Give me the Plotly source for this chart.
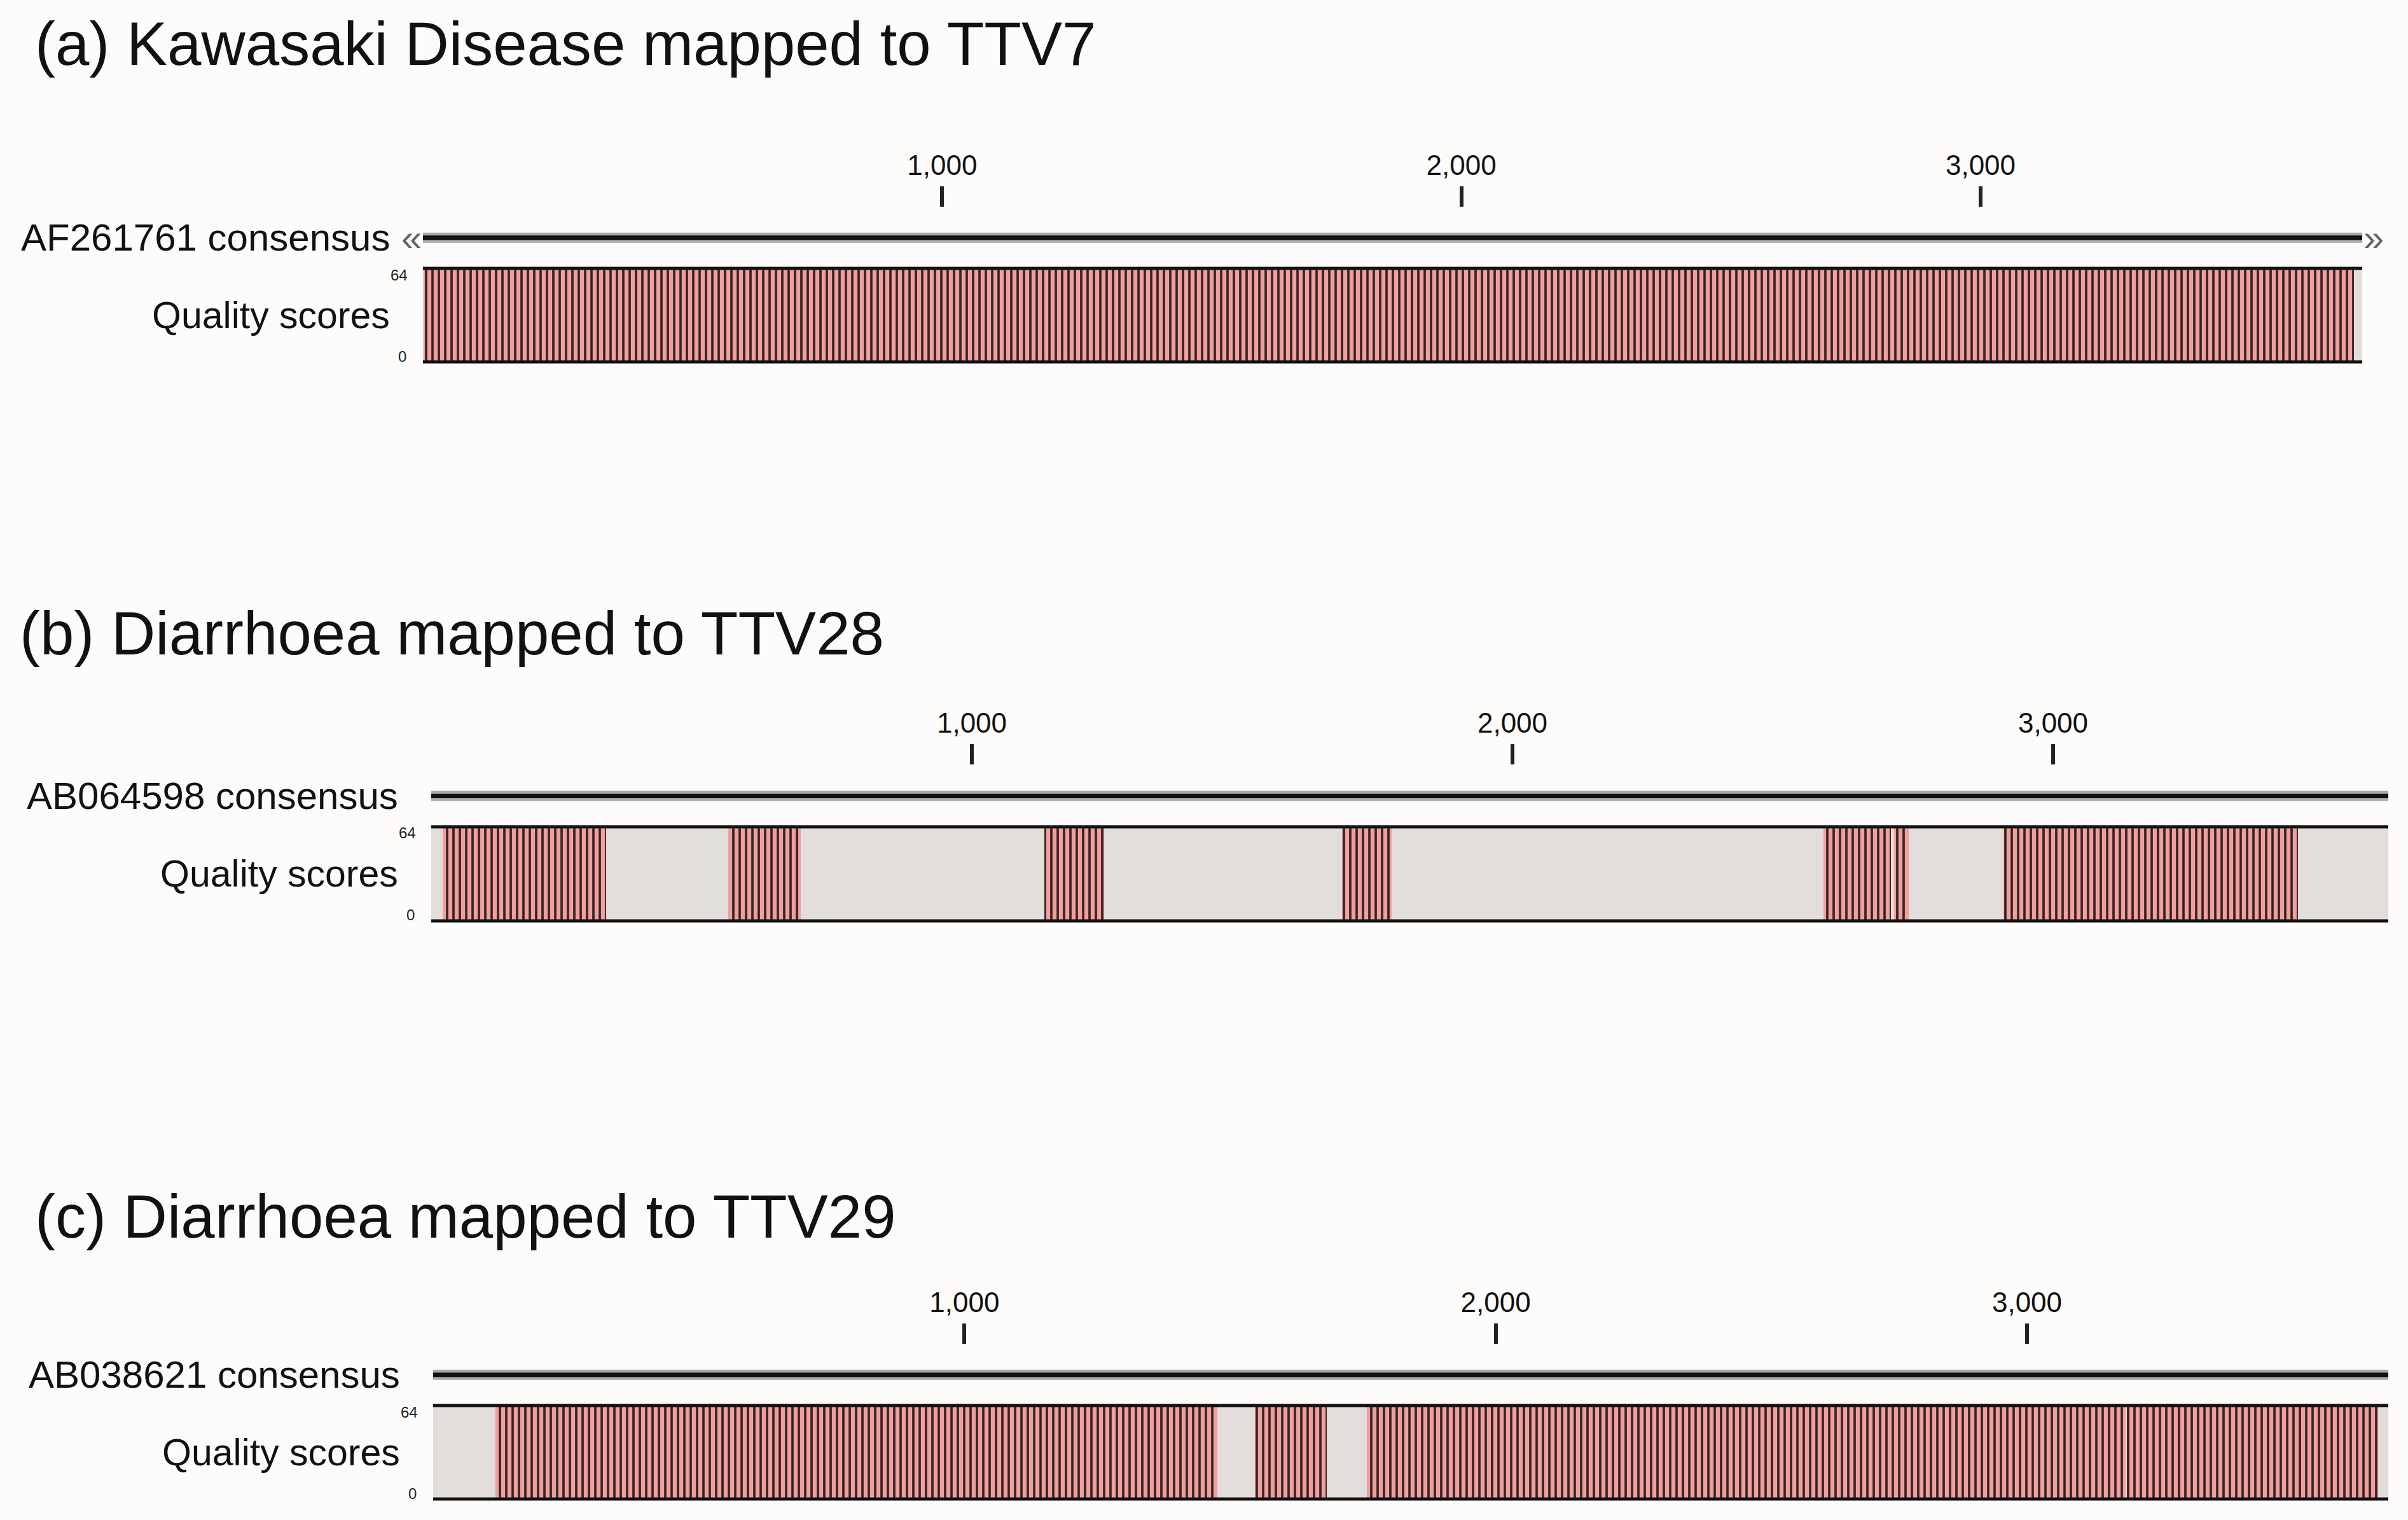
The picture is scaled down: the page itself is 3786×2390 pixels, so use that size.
import plotly.graph_objects as go

# ---------------- data ----------------
TITLES = ["(a) Kawasaki Disease mapped to TTV7",
          "(b) Diarrhoea mapped to TTV28",
          "(c) Diarrhoea mapped to TTV29"]
REFERENCES = ["AF261761 consensus", "AB064598 consensus", "AB038621 consensus"]
GENOME_LENGTHS = [3735, 3620, 3680]

COVERED_START_A = [1]
COVERED_END_A = [3719]
COVERED_START_B = [21, 549, 1134, 1685, 2575, 2706, 2908]
COVERED_END_B = [324, 684, 1245, 1776, 2700, 2733, 3453]
COVERED_START_C = [117, 1547, 1757, 3188]
COVERED_END_C = [1476, 1682, 3185, 3661]
QUALITY_MAX = 64

TICK_VALS = [1000, 2000, 3000]
TICK_TEXT = ["1,000", "2,000", "3,000"]

COVERED_STARTS = [COVERED_START_A, COVERED_START_B, COVERED_START_C]
COVERED_ENDS = [COVERED_END_A, COVERED_END_B, COVERED_END_C]

# ---------------- layout geometry (pixels) ----------------
W, H = 3786, 2390
PANELS = [
    dict(x0=665, x1=3714, top=422, bot=569, tx=53, ty=68, arrows=True),
    dict(x0=678, x1=3755, top=1300, bot=1448, tx=29, ty=995, arrows=False),
    dict(x0=681, x1=3755, top=2210, bot=2357, tx=53, ty=1912, arrows=False),
]
Y_LO, Y_HI = -3, 106
CONS_Y = 85

FONT = "Liberation Sans, Arial, sans-serif"
BG = "#fdfcfb"
GREY = "#e3dddc"
PINK = "#f09e9e"
DARK = "#352424"

fig = go.Figure()
annotations = []
layout_axes = {}

for i, p in enumerate(PANELS):
    n = "" if i == 0 else str(i + 1)
    xa, ya = "x" + n, "y" + n
    L = GENOME_LENGTHS[i]
    u = (p["bot"] - p["top"]) / QUALITY_MAX
    dom_bot = p["bot"] + (0 - Y_LO) * u
    dom_top = p["bot"] - (Y_HI - 0) * u

    layout_axes["xaxis" + n] = dict(
        domain=[p["x0"] / W, p["x1"] / W], range=[0, L], anchor=ya,
        side="top", showgrid=False, zeroline=False, showline=False,
        ticks="outside", ticklen=32, tickwidth=6, tickcolor="#222",
        tickvals=TICK_VALS, ticktext=TICK_TEXT, ticklabelstandoff=0,
        tickfont=dict(family=FONT, size=44, color="#111"), fixedrange=True)
    layout_axes["yaxis" + n] = dict(
        domain=[1 - dom_bot / H, 1 - dom_top / H], range=[Y_LO, Y_HI], anchor=xa,
        showgrid=False, zeroline=False, showline=False, showticklabels=False,
        ticks="", fixedrange=True)

    # grey background of quality track (uncovered)
    fig.add_trace(go.Bar(x=[L / 2], y=[QUALITY_MAX], base=0, width=[L],
                         marker=dict(color=GREY, line=dict(width=0)),
                         xaxis=xa, yaxis=ya, showlegend=False, hoverinfo="skip"))
    # covered regions with quality scores
    s, e = COVERED_STARTS[i], COVERED_ENDS[i]
    fig.add_trace(go.Bar(x=[(a + b) / 2 for a, b in zip(s, e)],
                         y=[QUALITY_MAX] * len(s), base=0,
                         width=[b - a for a, b in zip(s, e)],
                         marker=dict(color=PINK, line=dict(width=0),
                                     pattern=dict(shape="|", fgcolor=DARK, bgcolor=PINK,
                                                  size=10, solidity=0.37, fillmode="replace")),
                         xaxis=xa, yaxis=ya, showlegend=False))
    # top & bottom borders of quality track
    for yy in (QUALITY_MAX, 0):
        fig.add_trace(go.Scatter(x=[0, L], y=[yy, yy], mode="lines",
                                 line=dict(color="#111", width=5),
                                 xaxis=xa, yaxis=ya, showlegend=False, hoverinfo="skip"))
    # consensus line (halo + core)
    fig.add_trace(go.Scatter(x=[0, L], y=[CONS_Y, CONS_Y], mode="lines",
                             line=dict(color="#a9a9a9", width=16),
                             xaxis=xa, yaxis=ya, showlegend=False, hoverinfo="skip"))
    fig.add_trace(go.Scatter(x=[0, L], y=[CONS_Y, CONS_Y], mode="lines",
                             line=dict(color="#111", width=7),
                             xaxis=xa, yaxis=ya, showlegend=False, hoverinfo="skip"))

    # titles
    annotations.append(dict(text=TITLES[i], xref="paper", yref="paper",
                            x=p["tx"] / W, y=1 - p["ty"] / H, xanchor="left", yanchor="middle",
                            showarrow=False, font=dict(family=FONT, size=96, color="#111")))
    # row labels
    lab_x = (p["x0"] - 50) / W
    annotations.append(dict(text=REFERENCES[i], xref="paper", yref=ya, x=lab_x, y=CONS_Y,
                            xanchor="right", yanchor="middle", showarrow=False,
                            font=dict(family=FONT, size=60, color="#111")))
    annotations.append(dict(text="Quality scores", xref="paper", yref=ya, x=lab_x,
                            y=QUALITY_MAX / 2, xanchor="right", yanchor="middle", showarrow=False,
                            font=dict(family=FONT, size=59, color="#111")))
    annotations.append(dict(text=str(QUALITY_MAX), xref=xa, yref=ya, x=0, y=QUALITY_MAX,
                            xanchor="right", yanchor="middle", xshift=-22, yshift=-10,
                            showarrow=False, font=dict(family=FONT, size=24, color="#222")))
    annotations.append(dict(text="0", xref=xa, yref=ya, x=0, y=0,
                            xanchor="right", yanchor="middle", xshift=-24, yshift=9,
                            showarrow=False, font=dict(family=FONT, size=24, color="#222")))
    if p["arrows"]:
        annotations.append(dict(text="«", xref=xa, yref=ya, x=0, y=CONS_Y, xanchor="right",
                                yanchor="middle", xshift=0, showarrow=False,
                                font=dict(family=FONT, size=58, color="#666")))
        annotations.append(dict(text="»", xref=xa, yref=ya, x=L, y=CONS_Y, xanchor="left",
                                yanchor="middle", xshift=0, showarrow=False,
                                font=dict(family=FONT, size=58, color="#666")))

fig.update_layout(width=W, height=H, margin=dict(l=0, r=0, t=0, b=0),
                  paper_bgcolor=BG, plot_bgcolor=BG, barmode="overlay", bargap=0,
                  showlegend=False, annotations=annotations, **layout_axes)

fig.write_html("out.html", config={"displayModeBar": False},
               post_script="document.body.style.margin='0';"
                           "document.body.style.background='" + BG + "';")
